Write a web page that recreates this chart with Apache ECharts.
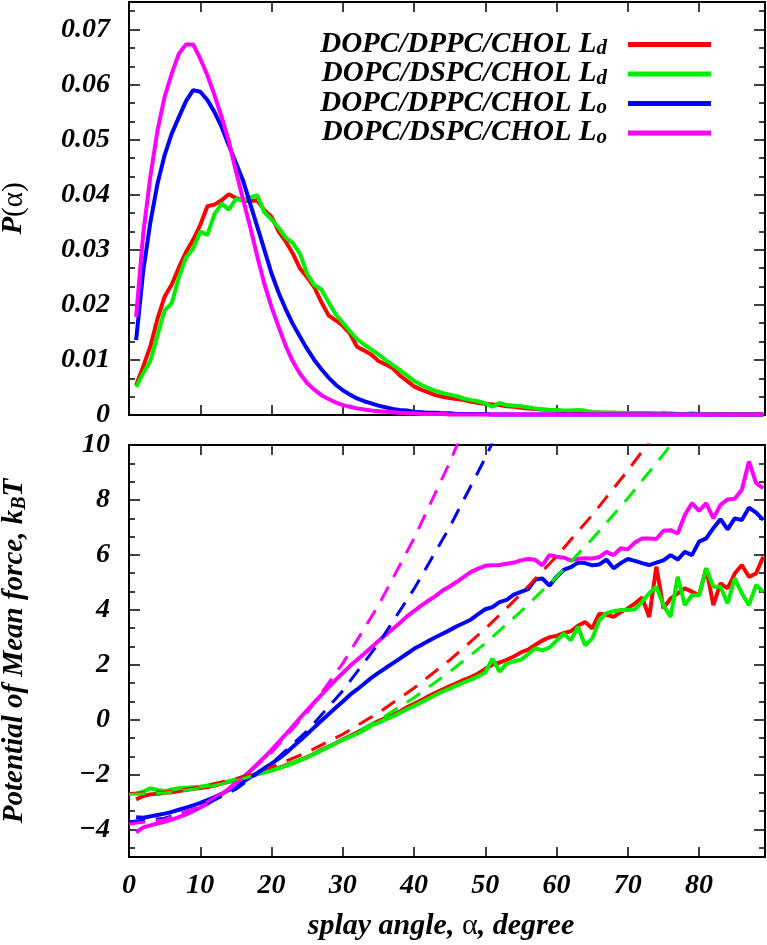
<!DOCTYPE html>
<html><head><meta charset="utf-8">
<script src="https://cdn.jsdelivr.net/npm/echarts@6/dist/echarts.min.js"></script>
<style>html,body{margin:0;padding:0;background:#fff}#c{width:767px;height:945px}</style>
</head><body><div id="c"></div>
<script>
// ---------- data ----------
const ANGLES = [1,2,3,4,5,6,7,8,9,10,11,12,13,14,15,16,17,18,19,20,21,22,23,24,25,26,27,28,29,30,
31,32,33,34,35,36,37,38,39,40,41,42,43,44,45,46,47,48,49,50,51,52,53,54,55,56,57,58,59,60,
61,62,63,64,65,66,67,68,69,70,71,72,73,74,75,76,77,78,79,80,81,82,83,84,85,86,87,88,89];

const SERIES_NAMES = ['DOPC/DPPC/CHOL Ld','DOPC/DSPC/CHOL Ld','DOPC/DPPC/CHOL Lo','DOPC/DSPC/CHOL Lo'];
const SERIES_COLORS = ['#ff0000','#00ee00','#0000ff','#ff00ff'];

// P(alpha) distributions
const P_DPPC_LD = [0.0054,0.0088,0.0125,0.0175,0.0215,0.0237,0.0268,0.0296,0.0318,0.0345,
0.0379,0.0382,0.0390,0.0401,0.0394,0.0390,0.0388,0.0390,0.0372,0.0360,
0.0333,0.0315,0.0293,0.0266,0.0250,0.0232,0.0205,0.0181,0.0172,0.0162,
0.0148,0.0124,0.0117,0.0110,0.0098,0.0092,0.0085,0.0072,0.0062,0.0052,
0.0046,0.0041,0.0036,0.0033,0.0031,0.0029,0.0027,0.0024,0.0022,0.0020,
0.0019,0.0018,0.0016,0.0015,0.0013,0.0012,0.0011,0.0010,0.0009,0.0008,
0.0007,0.0007,0.0006,0.0006,0.0005,0.0004,0.0004,0.0004,0.0003,0.0003,
0.0003,0.0003,0.0003,0.0002,0.0003,0.0002,0.0002,0.0002,0.0002,0.0002,
0.0001,0.0002,0.0001,0.0002,0.0001,0.0001,0.0001,0.0001,0.0001];
const P_DSPC_LD = [0.0051,0.0076,0.0098,0.0145,0.0190,0.0203,0.0250,0.0286,0.0302,0.0333,
0.0327,0.0365,0.0384,0.0373,0.0392,0.0390,0.0395,0.0399,0.0368,0.0355,
0.0340,0.0322,0.0312,0.0293,0.0256,0.0236,0.0228,0.0205,0.0183,0.0168,
0.0152,0.0138,0.0128,0.0119,0.0110,0.0100,0.0091,0.0082,0.0072,0.0062,
0.0055,0.0049,0.0044,0.0040,0.0037,0.0034,0.0030,0.0027,0.0025,0.0021,
0.0015,0.0022,0.0018,0.0017,0.0016,0.0014,0.0012,0.0010,0.0009,0.0009,
0.0008,0.0008,0.0009,0.0008,0.0005,0.0005,0.0004,0.0004,0.0004,0.0003,
0.0003,0.0003,0.0003,0.0003,0.0002,0.0003,0.0002,0.0002,0.0003,0.0002,
0.0002,0.0002,0.0002,0.0001,0.0002,0.0001,0.0002,0.0001,0.0001];
const P_DPPC_LO = [0.0136,0.0262,0.0350,0.0420,0.0472,0.0511,0.0541,0.0570,0.0590,0.0587,
0.0572,0.0550,0.0523,0.0490,0.0458,0.0426,0.0384,0.0342,0.0300,0.0257,
0.0222,0.0192,0.0165,0.0142,0.0120,0.0100,0.0083,0.0068,0.0055,0.0045,
0.0037,0.0030,0.0025,0.0021,0.0017,0.0014,0.0011,0.0009,0.0008,0.0006,
0.0005,0.0004,0.0004,0.0003,0.0003,0.0002,0.0002,0.0002,0.0002,0.0002,
0.0001,0.0001,0.0001,0.0001,0.0001,0.0001,0.0001,0.0001,0.0001,0.0001,
0.0001,0.0001,0.0001,0.0001,0.0001,0.0001,0.0001,0.0001,0.0001,0.0001,
0.0001,0.0001,0.0001,0.0001,0.0001,0.0001,0.0001,0.0001,0.0001,0.0001,
0.0001,0.0001,0.0001,0.0001,0.0001,0.0001,0.0001,0.0001,0.0001];
const P_DSPC_LO = [0.0178,0.0330,0.0433,0.0517,0.0578,0.0620,0.0656,0.0673,0.0673,0.0647,
0.0617,0.0581,0.0541,0.0497,0.0443,0.0392,0.0342,0.0288,0.0238,0.0196,
0.0160,0.0125,0.0097,0.0075,0.0058,0.0046,0.0036,0.0029,0.0023,0.0018,
0.0015,0.0012,0.0010,0.0008,0.0007,0.0006,0.0005,0.0004,0.0003,0.0003,
0.0002,0.0002,0.0002,0.0002,0.0001,0.0001,0.0001,0.0001,0.0001,0.0001,
0.0001,0.0001,0.0001,0.0001,0.0001,0.0001,0.0001,0.0001,0.0001,0.0001,
0.0001,0.0001,0.0001,0.0001,0.0001,0.0001,0.0001,0.0001,0.0001,0.0001,
0.0001,0.0001,0.0001,0.0001,0.0001,0.0001,0.0001,0.0001,0.0001,0.0001,
0.0001,0.0001,0.0001,0.0001,0.0001,0.0001,0.0001,0.0001,0.0001];

// Potential of mean force (kBT)
const PMF_DPPC_LD = [-2.90,-2.78,-2.72,-2.70,-2.66,-2.64,-2.60,-2.56,-2.52,-2.49,
-2.45,-2.40,-2.33,-2.26,-2.20,-2.13,-2.06,-1.98,-1.91,-1.84,
-1.76,-1.66,-1.57,-1.47,-1.36,-1.24,-1.10,-0.98,-0.86,-0.72,
-0.60,-0.47,-0.33,-0.18,-0.05,0.06,0.17,0.30,0.45,0.58,
0.70,0.85,0.98,1.10,1.22,1.33,1.45,1.55,1.68,1.85,
2.00,2.08,2.18,2.30,2.45,2.55,2.72,2.88,3.00,3.05,
3.15,3.22,3.42,3.56,3.32,3.86,3.82,3.74,3.92,4.05,
4.23,4.45,3.74,5.57,4.05,4.41,4.60,4.78,4.66,4.53,
5.51,4.17,4.96,4.78,5.32,5.63,5.20,5.32,5.93];
const PMF_DSPC_LD = [-2.70,-2.62,-2.50,-2.56,-2.60,-2.54,-2.50,-2.48,-2.46,-2.44,
-2.40,-2.34,-2.30,-2.24,-2.18,-2.12,-2.05,-1.98,-1.92,-1.85,
-1.77,-1.68,-1.59,-1.48,-1.38,-1.25,-1.12,-0.99,-0.86,-0.74,
-0.63,-0.51,-0.38,-0.22,-0.11,0.01,0.12,0.24,0.38,0.50,
0.63,0.76,0.90,1.02,1.13,1.25,1.36,1.46,1.58,1.72,
2.22,1.75,2.04,2.12,2.18,2.38,2.60,2.52,2.62,2.88,
3.13,2.89,3.38,2.71,2.95,3.62,3.88,3.95,3.99,3.99,
4.02,4.29,4.60,4.84,4.17,3.74,5.20,4.17,4.53,4.53,
5.51,4.84,4.84,4.23,5.14,4.60,4.17,4.90,4.66];
const PMF_DPPC_LO = [-3.55,-3.57,-3.52,-3.47,-3.42,-3.36,-3.28,-3.20,-3.12,-3.03,
-2.93,-2.82,-2.70,-2.56,-2.42,-2.26,-2.10,-1.94,-1.77,-1.60,
-1.42,-1.22,-0.99,-0.76,-0.52,-0.28,-0.04,0.20,0.43,0.66,
0.90,1.10,1.31,1.52,1.70,1.88,2.05,2.22,2.40,2.58,
2.72,2.86,3.00,3.13,3.26,3.40,3.52,3.65,3.84,4.02,
4.10,4.28,4.36,4.55,4.65,4.75,5.10,5.14,4.88,5.20,
5.45,5.55,5.72,5.70,5.62,5.65,5.83,5.51,5.70,5.85,
5.78,5.70,5.63,5.72,5.80,5.99,5.83,6.11,5.99,6.48,
6.60,6.97,7.30,6.93,7.33,7.27,7.72,7.54,7.27];
const PMF_DSPC_LO = [-4.10,-3.92,-3.85,-3.78,-3.72,-3.64,-3.55,-3.45,-3.33,-3.20,
-3.06,-2.90,-2.72,-2.52,-2.30,-2.10,-1.87,-1.62,-1.37,-1.10,
-0.82,-0.53,-0.24,0.06,0.35,0.63,0.90,1.18,1.45,1.70,
1.95,2.18,2.40,2.63,2.86,3.08,3.30,3.52,3.76,3.95,
4.15,4.33,4.50,4.70,4.85,5.02,5.20,5.38,5.50,5.60,
5.62,5.63,5.68,5.72,5.80,5.85,5.82,5.62,5.99,5.93,
5.90,5.80,5.86,5.88,5.87,5.92,6.11,5.99,6.24,6.20,
6.45,6.60,6.60,6.58,6.88,6.90,6.78,7.45,7.88,7.60,
7.88,7.33,7.82,8.02,8.04,8.37,9.40,8.61,8.43];

// dashed harmonic fits (read at 5-degree steps)
const FIT_ANGLES = [0,5,10,15,20,25,30,35,40,45,50,55,60,65,70,75,80];
const FIT_DPPC_LD = [-2.69,-2.63,-2.45,-2.15,-1.73,-1.19,-0.53,0.25,1.15,2.17,3.31,4.57,5.95,7.45,9.07,10.81];
const FIT_DSPC_LD = [-2.72,-2.67,-2.50,-2.23,-1.84,-1.35,-0.74,-0.02,0.80,1.74,2.78,3.94,5.20,6.58,8.06,9.66,11.36];
const FIT_DPPC_LO = [-3.72,-3.59,-3.19,-2.53,-1.60,-0.41,1.05,2.77,4.76,7.01,9.53,12.30];
const FIT_DSPC_LO = [-3.80,-3.64,-3.15,-2.34,-1.20,0.26,2.05,4.16,6.60,9.36,12.45];

// axis ticks
const X_TICKS = [0,10,20,30,40,50,60,70,80];
const P_TICKS = [0,0.01,0.02,0.03,0.04,0.05,0.06,0.07];
const P_MINOR = [0.00333,0.00667,0.01333,0.01667,0.02333,0.02667,0.03333,0.03667,0.04333,0.04667,0.05333,0.05667,0.06333,0.06667,0.07333];
const PMF_TICKS = [-4,-2,0,2,4,6,8,10];
const PMF_MINOR = [-4.667,-3.333,-2.667,-1.333,-0.667,0.667,1.333,2.667,3.333,4.667,5.333,6.667,7.333,8.667,9.333];

// ---------- chart ----------
const FONT = "'Liberation Serif','Times New Roman',serif";
const X_MAX = 89.25;
const zip = (xs, ys) => ys.map((y, i) => [xs[i], y]);
const bi = {fontFamily: FONT, fontWeight: 'bold', fontStyle: 'italic', color: '#000'};

function xAx(grid, pos, labels, name) {
  const a = {
    type: 'value', gridIndex: grid, position: pos, min: 0, max: X_MAX,
    axisLine: {show: true, onZero: false, lineStyle: {color: '#000', width: 2}},
    axisTick: {show: true, inside: true, length: 10, customValues: X_TICKS, lineStyle: {color: '#000', width: 1.5}},
    axisLabel: {show: labels, customValues: X_TICKS, margin: 15, fontSize: 28, ...bi},
    splitLine: {show: false}
  };
  if (name) {
    a.name = name; a.nameLocation = 'middle'; a.nameGap = 54;
    a.nameTextStyle = {padding: [0, 12, 0, 0], rich: {
      i: {...bi, fontSize: 30},
      n: {fontFamily: FONT, fontSize: 30, color: '#000'}
    }};
  }
  return a;
}
function yAx(grid, pos, min, max, ticks, len, labels, fmt, name, nameGap) {
  const a = {
    type: 'value', gridIndex: grid, position: pos, min: min, max: max,
    axisLine: {show: true, onZero: false, lineStyle: {color: '#000', width: 2}},
    axisTick: {show: true, inside: true, length: len, customValues: ticks, lineStyle: {color: '#000', width: 1.5}},
    axisLabel: {show: labels, customValues: ticks, margin: 19, fontSize: 28, formatter: fmt, ...bi},
    splitLine: {show: false}
  };
  if (name) {
    a.name = name; a.nameLocation = 'middle'; a.nameRotate = 90; a.nameGap = nameGap;
    a.nameTextStyle = {rich: {
      i: {...bi, fontSize: 29, lineHeight: 30},
      n: {fontFamily: FONT, fontSize: 29, color: '#000', lineHeight: 30},
      s: {...bi, fontSize: 20, lineHeight: 10, verticalAlign: 'bottom'}
    }};
  }
  return a;
}
const fmtP = v => v === 0 ? '0' : v.toFixed(2);
const fmtPMF = v => String(v).replace('-', '\u2212');

const xAxis = [
  xAx(0, 'bottom', false), xAx(0, 'top', false),
  xAx(1, 'bottom', true, '{i|splay angle, }{n|\u03b1}{i|, degree}'), xAx(1, 'top', false)
];
const yAxis = [
  yAx(0, 'left', 0, 0.075, P_TICKS, 11, true, fmtP, '{i|P}{n|(\u03b1)}', 100),
  yAx(0, 'left', 0, 0.075, P_MINOR, 6, false),
  yAx(0, 'right', 0, 0.075, P_TICKS, 11, false),
  yAx(0, 'right', 0, 0.075, P_MINOR, 6, false),
  yAx(1, 'left', -5, 10, PMF_TICKS, 11, true, fmtPMF, '{i|Potential of Mean force, k}{s|B}{i|T}', 99),
  yAx(1, 'left', -5, 10, PMF_MINOR, 6, false),
  yAx(1, 'right', -5, 10, PMF_TICKS, 11, false),
  yAx(1, 'right', -5, 10, PMF_MINOR, 6, false)
];

const P_DATA = [P_DPPC_LD, P_DSPC_LD, P_DPPC_LO, P_DSPC_LO];
const PMF_DATA = [PMF_DPPC_LD, PMF_DSPC_LD, PMF_DPPC_LO, PMF_DSPC_LO];
const FIT_DATA = [FIT_DPPC_LD, FIT_DSPC_LD, FIT_DPPC_LO, FIT_DSPC_LO];

const series = [];
SERIES_NAMES.forEach((n, i) => series.push({
  name: n, type: 'line', xAxisIndex: 0, yAxisIndex: 0, data: zip(ANGLES, P_DATA[i]),
  showSymbol: false, color: SERIES_COLORS[i], lineStyle: {width: 4, color: SERIES_COLORS[i]}, z: 2 + i
}));
SERIES_NAMES.forEach((n, i) => series.push({
  name: n, type: 'line', xAxisIndex: 2, yAxisIndex: 4, data: zip(ANGLES, PMF_DATA[i]),
  showSymbol: false, color: SERIES_COLORS[i], lineStyle: {width: 4, color: SERIES_COLORS[i]}, z: 2 + i
}));
SERIES_NAMES.forEach((n, i) => series.push({
  name: 'fit ' + n, type: 'line', xAxisIndex: 2, yAxisIndex: 4, data: zip(FIT_ANGLES, FIT_DATA[i]),
  showSymbol: false, color: SERIES_COLORS[i], clip: true,
  lineStyle: {width: 3, color: SERIES_COLORS[i], type: [16, 11]}, z: 7 + i
}));

const chart = echarts.init(document.getElementById('c'), null, {renderer: 'canvas'});
chart.setOption({
  animation: false,
  backgroundColor: '#fff',
  grid: [
    {left: 129, top: 2, width: 636, height: 413, outerBoundsMode: 'none', containLabel: false},
    {left: 129, top: 445, width: 636, height: 412, outerBoundsMode: 'none', containLabel: false}
  ],
  legend: {
    data: SERIES_NAMES, orient: 'vertical', right: 51, top: 25, align: 'right',
    icon: 'rect', itemWidth: 83, itemHeight: 5, itemGap: 0, selectedMode: false,
    formatter: n => '{m|' + n.slice(0, -1) + '}{s|' + n.slice(-1) + '}',
    textStyle: {padding: [0, 16, 0, 0], rich: {
      m: {...bi, fontSize: 29, lineHeight: 30},
      s: {...bi, fontSize: 21, lineHeight: 10, verticalAlign: 'bottom'}
    }}
  },
  xAxis: xAxis,
  yAxis: yAxis,
  series: series
});
</script></body></html>
